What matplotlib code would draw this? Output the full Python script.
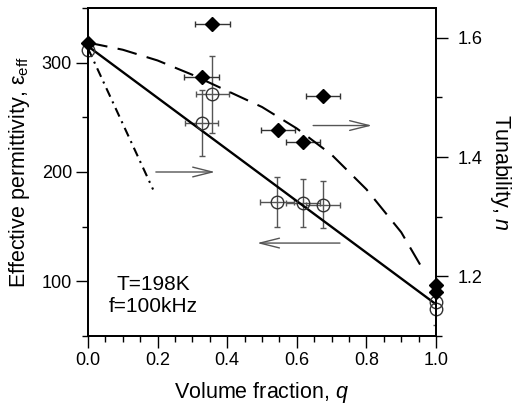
import numpy as np
import matplotlib
matplotlib.use('Agg')
import matplotlib.pyplot as plt
from matplotlib.ticker import MultipleLocator

plt.rcParams['font.family'] = ['Liberation Sans', 'DejaVu Sans']
plt.rcParams['mathtext.fontset'] = 'custom'
plt.rcParams['mathtext.rm'] = 'Liberation Sans'
plt.rcParams['mathtext.it'] = 'Liberation Sans:italic'

# effective permittivity (left axis), open circles
q_eps = np.array([0.0, 0.327, 0.357, 0.543, 0.618, 0.675, 1.0, 1.0])
eps = np.array([312, 245, 271, 172.5, 171.5, 170, 81, 75])
eps_qerr = np.array([0, 0.047, 0.048, 0.05, 0.05, 0.05, 0, 0])
eps_err = np.array([0, 30, 35, 23, 22, 21.5, 0, 15])

# tunability (right axis), filled diamonds
q_n = np.array([0.0, 0.327, 0.357, 0.546, 0.618, 0.675, 1.0, 1.0])
n = np.array([1.592, 1.535, 1.623, 1.446, 1.426, 1.502, 1.185, 1.173])
n_qerr = np.array([0, 0.05, 0.05, 0.05, 0.05, 0.05, 0, 0])

# model curves
q_lin = [0.0, 1.0]
eps_lin = [315, 79]
q_dd = [0.0, 0.187]
eps_dd = [313, 184]
q_dash = [0.0, 0.1, 0.2, 0.3, 0.4, 0.5, 0.6, 0.7, 0.8, 0.9, 0.96]
n_dash = [1.592, 1.580, 1.562, 1.538, 1.511, 1.484, 1.448, 1.404, 1.346, 1.274, 1.214]

fig = plt.figure(figsize=(5.13, 4.05), dpi=100)
ax = fig.add_axes([88/513, 69/405, 348/513, 328/405])
ax2 = ax.twinx()

ebar_col = '#555555'
# left axis data
ax.plot(q_lin, eps_lin, color='black', lw=1.7, zorder=3)
ax.plot(q_dd, eps_dd, color='black', lw=1.5, linestyle=(0, (4.5, 2.5, 1, 2.5)), zorder=3)
m = eps_err > 0
ax.errorbar(q_eps[m], eps[m], yerr=eps_err[m], fmt='none', ecolor=ebar_col,
            elinewidth=1, capsize=2.5, capthick=1, zorder=2)
m = eps_qerr > 0
ax.errorbar(q_eps[m], eps[m], xerr=eps_qerr[m], fmt='none', ecolor=ebar_col,
            elinewidth=1, capsize=2.5, capthick=1, zorder=2)
ax.plot(q_eps, eps, 'o', ms=9, mfc='none', mec='#333333', mew=1, zorder=4, clip_on=False)

# right axis data
ax2.plot(q_dash, n_dash, color='black', lw=1.5, linestyle=(0, (9.5, 5)), zorder=3)
m = n_qerr > 0
ax2.errorbar(q_n[m], n[m], xerr=n_qerr[m], fmt='none', ecolor='#333333',
             elinewidth=1, capsize=2.5, capthick=1, zorder=2)
ax2.plot(q_n, n, 'D', ms=7.5, color='black', zorder=4, clip_on=False)

# arrows
arrow_kw = dict(arrowstyle='->,head_length=1.4,head_width=0.35', color='#555555',
                lw=1, mutation_scale=10, shrinkA=0, shrinkB=0)
ax.annotate('', xy=(0.365, 200), xytext=(0.195, 200), arrowprops=arrow_kw)
ax.annotate('', xy=(0.816, 242.5), xytext=(0.647, 242.5), arrowprops=arrow_kw)
ax.annotate('', xy=(0.486, 135), xytext=(0.724, 135), arrowprops=arrow_kw)

ax.text(0.187, 87, 'T=198K\nf=100kHz', ha='center', va='center', fontsize=15)

# axes setup
ax.set_xlim(0, 1)
ax.set_ylim(50, 350)
ax2.set_ylim(1.10, 1.65)
ax.xaxis.set_major_locator(MultipleLocator(0.2))
ax.xaxis.set_minor_locator(MultipleLocator(0.05))
ax.yaxis.set_major_locator(MultipleLocator(100))
ax.yaxis.set_minor_locator(MultipleLocator(50))
ax2.yaxis.set_major_locator(MultipleLocator(0.2))
ax2.yaxis.set_minor_locator(MultipleLocator(0.1))
ax.xaxis.set_major_formatter(plt.FormatStrFormatter('%.1f'))
ax2.yaxis.set_major_formatter(plt.FormatStrFormatter('%.1f'))

for a in (ax, ax2):
    for s in a.spines.values():
        s.set_linewidth(1.3)
ax.tick_params(axis='both', which='major', direction='out', length=8.5, width=1, labelsize=13)
ax.tick_params(axis='both', which='minor', direction='out', length=4.5, width=1)
ax.tick_params(axis='x', which='major', pad=3)
ax.tick_params(axis='y', which='major', pad=3)
ax.tick_params(axis='y', which='both', right=False)
ax2.tick_params(axis='y', which='major', direction='out', length=8.5, width=1, labelsize=13, pad=7)
ax2.tick_params(axis='y', which='minor', direction='out', length=4.5, width=1)

ax.set_xlabel('Volume fraction, $q$', fontsize=15.5)
ax.set_ylabel('Effective permittivity, ε$_{\\mathrm{eff}}$', fontsize=15.5)
ax2.set_ylabel('Tunability, $n$', fontsize=15.5, rotation=270, va='bottom')
ax.xaxis.set_label_coords(0.5, -0.134)
ax.yaxis.set_label_coords(-0.161, 0.5)
ax2.yaxis.set_label_coords(1.148, 0.5)

fig.savefig('out.png', dpi=100)
